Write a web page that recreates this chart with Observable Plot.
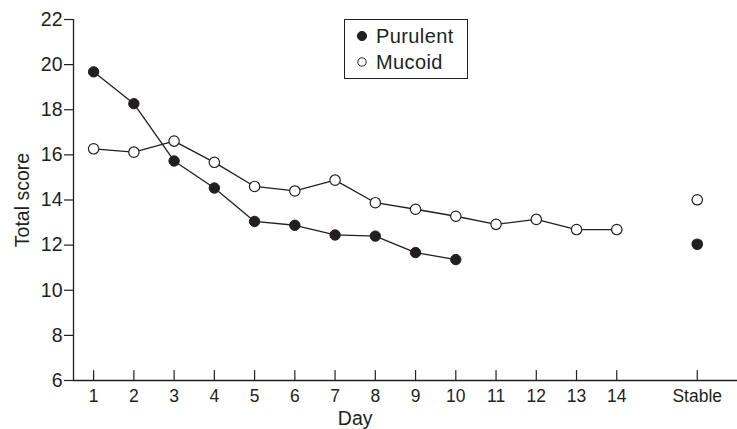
<!DOCTYPE html>
<html><head><meta charset="utf-8">
<script src="https://cdn.jsdelivr.net/npm/d3@7"></script>
<script src="https://cdn.jsdelivr.net/npm/@observablehq/plot@0.6"></script>
<style>
body{margin:0;background:#fff;}
#wrap{position:relative;width:737px;height:429px;font-family:"Liberation Sans",Arial,sans-serif;color:#231f20;}
#legend{position:absolute;left:344px;top:19px;width:124px;height:60px;border:1px solid #231f20;box-sizing:border-box;padding:3px 0 0 11px;font-size:20px;letter-spacing:0.4px;}
#legend .row{display:flex;align-items:center;height:26px;}
#legend svg{margin-right:8px;}
</style></head><body><div id="wrap"></div>
<script>
const days = [1,2,3,4,5,6,7,8,9,10,11,12,13,14];
const purulentDays = [1,2,3,4,5,6,7,8,9,10];
const purulent = [19.68,18.27,15.73,14.53,13.05,12.88,12.45,12.40,11.67,11.36];
const mucoidDays = [1,2,3,4,5,6,7,8,9,10,11,12,13,14];
const mucoid = [16.27,16.12,16.61,15.67,14.60,14.40,14.88,13.88,13.59,13.28,12.92,13.14,12.69,12.69];
const stablePosition = 16;
const stableLabel = "Stable";
const stablePurulent = 12.04;
const stableMucoid = 14.01;
const seriesNames = ["Purulent","Mucoid"];
const yTicks = [6,8,10,12,14,16,18,20,22];
const xTicks = [...days, stablePosition];
const xTickLabels = [...days.map(String), stableLabel];
const xDomain = [0.5, 17];
const yDomain = [6, 22];

const ink = "#231f20";
const fills = {Purulent: ink, Mucoid: "#fff"};

const purulentData = purulentDays.map((d,i)=>({day:d, value:purulent[i]}));
const mucoidData = mucoidDays.map((d,i)=>({day:d, value:mucoid[i]}));
const stableData = [
  {series:"Purulent", day:stablePosition, value:stablePurulent},
  {series:"Mucoid", day:stablePosition, value:stableMucoid}
];
const labelOf = new Map(xTicks.map((t,i)=>[t, xTickLabels[i]]));
const tickShape = {draw(ctx, l){ ctx.moveTo(0,0); ctx.lineTo(0,-l); }};

const chart = Plot.plot({
  width: 737, height: 429,
  marginLeft: 73, marginRight: 0, marginTop: 19, marginBottom: 49,
  style: {fontFamily: '"Liberation Sans", Arial, sans-serif', fontSize: "17.5px", color: ink, background: "#fff", overflow: "visible"},
  x: {domain: xDomain},
  y: {domain: yDomain},
  marks: [
    Plot.axisY({ticks: yTicks, tickSize: 9, tickPadding: 2, tickFormat: d=>String(d), label: "Total score", labelAnchor: "center", labelArrow: false, labelOffset: 58, fontSize: 19.5, stroke: ink, strokeWidth: 1.2}),
    Plot.axisX({ticks: xTicks, tickSize: 0, tickPadding: 9, tickFormat: d=>labelOf.get(d), label: null}),
    Plot.vector(xTicks, {x: d=>d, y: ()=>yDomain[0], length: 10, anchor: "start", shape: tickShape, stroke: ink, strokeWidth: 1.2}),
    Plot.ruleY([yDomain[0]], {stroke: ink, strokeWidth: 1.3}),
    Plot.ruleX([xDomain[0]], {y1: yDomain[0], y2: yDomain[1], stroke: ink, strokeWidth: 1.3}),
    Plot.line(purulentData, {x:"day", y:"value", stroke: ink, strokeWidth: 1.3}),
    Plot.line(mucoidData, {x:"day", y:"value", stroke: ink, strokeWidth: 1.3}),
    Plot.dot(purulentData, {x:"day", y:"value", r:5.2, fill: ink, stroke: ink, strokeWidth: 1}),
    Plot.dot(mucoidData, {x:"day", y:"value", r:5.2, fill: "#fff", stroke: ink, strokeWidth: 1.2}),
    Plot.dot(stableData, {x:"day", y:"value", r:5.2, fill: d=>fills[d.series], stroke: ink, strokeWidth: 1.2}),
    Plot.text(["Day"], {x: ()=>d3.mean(days), frameAnchor: "bottom", dy: 44, fontSize: 19.5, fill: ink})
  ]
});
const wrap = document.getElementById("wrap");
wrap.appendChild(chart);

const legend = document.createElement("div");
legend.id = "legend";
for (const name of seriesNames) {
  const row = document.createElement("div");
  row.className = "row";
  const f = fills[name];
  row.innerHTML = `<svg width="12" height="12"><circle cx="6" cy="6" r="${name==="Mucoid"?4.2:4.6}" fill="${f}" stroke="${ink}" stroke-width="1"></circle></svg><span>${name}</span>`;
  legend.appendChild(row);
}
wrap.appendChild(legend);
</script>
</body></html>
